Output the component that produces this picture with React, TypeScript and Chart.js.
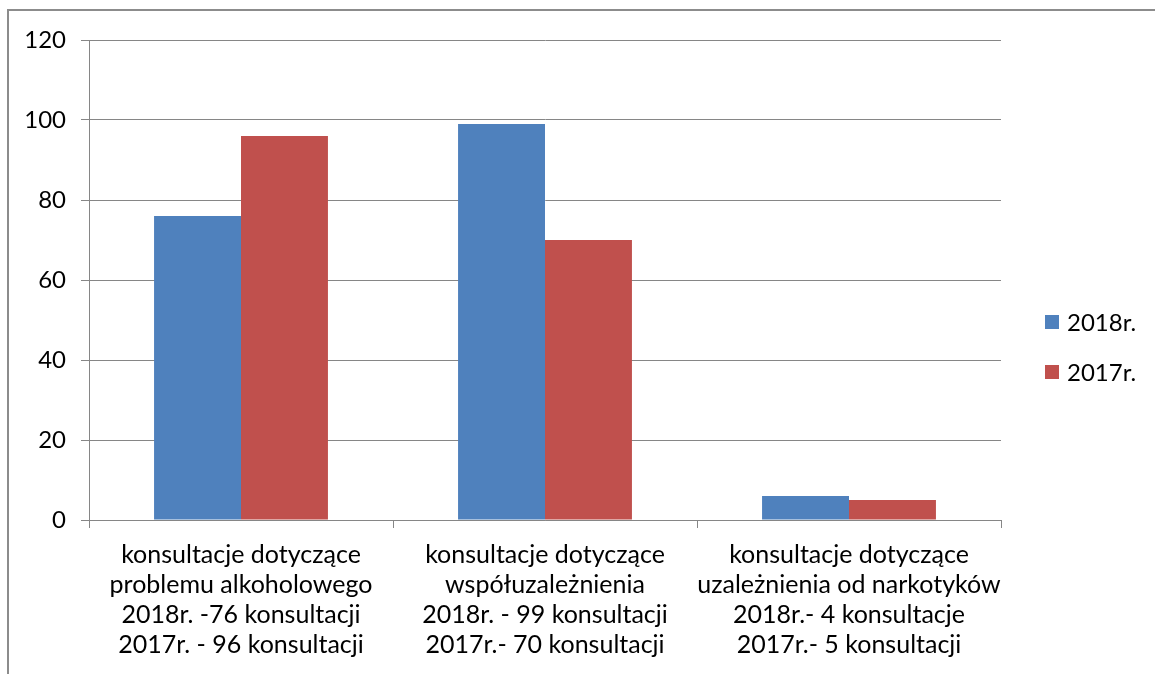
import React, { useEffect, useRef } from "react";
import { Chart, registerables } from "chart.js";

Chart.register(...registerables);

const categories: string[][] = [
  ["konsultacje dotyczące", "problemu alkoholowego", "2018r. -76 konsultacji", "2017r. - 96 konsultacji"],
  ["konsultacje dotyczące", "współuzależnienia", "2018r. - 99 konsultacji", "2017r.- 70 konsultacji"],
  ["konsultacje dotyczące", "uzależnienia od narkotyków", "2018r.- 4 konsultacje", "2017r.- 5 konsultacji"],
];
const seriesLabels = ["2018r.", "2017r."];
const values2018 = [76, 99, 6];
const values2017 = [96, 70, 5];
const seriesColors = ["#4F81BD", "#C0504D"];

const FONT = "Lato, 'Noto Sans', sans-serif";
const FS = 25;

const legendPlugin = {
  id: "customLegend",
  afterDraw(chart: any) {
    const ctx = chart.ctx;
    ctx.save();
    ctx.font = `24px ${FONT}`;
    ctx.textBaseline = "middle";
    ctx.textAlign = "left";
    chart.data.datasets.forEach((ds: any, i: number) => {
      const cy = 322 + i * 50;
      ctx.fillStyle = ds.backgroundColor;
      ctx.fillRect(1045, cy - 7, 14, 14);
      ctx.fillStyle = "#000";
      ctx.fillText(ds.label, 1067, cy + 1);
    });
    ctx.restore();
  },
};

export default function App() {
  const ref = useRef<HTMLCanvasElement | null>(null);
  useEffect(() => {
    if (!ref.current) return;
    const chart = new Chart(ref.current, {
      type: "bar",
      data: {
        labels: categories,
        datasets: [
          { label: seriesLabels[0], data: values2018, backgroundColor: seriesColors[0] },
          { label: seriesLabels[1], data: values2017, backgroundColor: seriesColors[1] },
        ],
      },
      options: {
        animation: false,
        responsive: false,
        maintainAspectRatio: false,
        layout: { padding: { left: 0, top: 40, right: 154, bottom: 0 } },
        plugins: { legend: { display: false }, tooltip: { enabled: false } },
        datasets: { bar: { categoryPercentage: 0.572, barPercentage: 1.0 } },
        scales: {
          x: {
            offset: true,
            grid: { display: true, drawOnChartArea: false, drawTicks: true, tickLength: 8, offset: true, color: "#868686", lineWidth: 1 },
            border: { display: true, color: "#868686", width: 1 },
            ticks: { color: "#000", font: { family: FONT, size: FS, lineHeight: 30 / FS }, padding: 12, maxRotation: 0, autoSkip: false },
            afterFit: (s: any) => { s.height = 154; },
          },
          y: {
            min: 0,
            max: 120,
            ticks: { stepSize: 20, color: "#000", font: { family: FONT, size: 24 }, padding: 15 },
            grid: { color: "#868686", lineWidth: 1, tickLength: 8 },
            border: { display: true, color: "#868686", width: 1 },
            afterFit: (s: any) => { s.width = 89; },
          },
        },
      },
      plugins: [legendPlugin],
    });
    return () => chart.destroy();
  }, []);
  return (
    <div style={{ position: "absolute", left: 0, top: 0, width: 1155, height: 674, background: "#fff", overflow: "hidden" }}>
      <canvas ref={ref} width={1155} height={674} style={{ position: "absolute", left: 0, top: 0 }} />
      <div style={{ position: "absolute", left: 7, top: 9, width: 1300, height: 800, borderLeft: "2px solid #8c8c8c", borderTop: "2px solid #8c8c8c", pointerEvents: "none" }} />
    </div>
  );
}
